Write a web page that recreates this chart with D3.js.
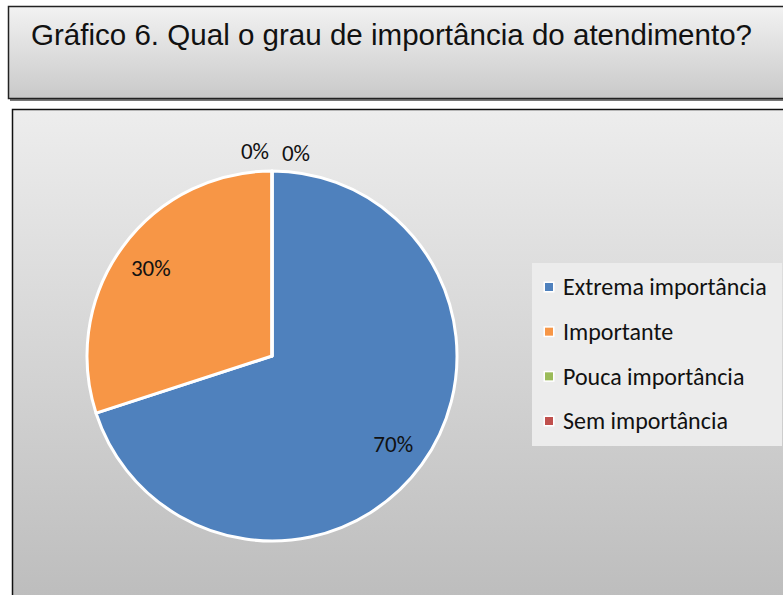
<!DOCTYPE html>
<html>
<head>
<meta charset="utf-8">
<script src="https://cdn.jsdelivr.net/npm/d3@7"></script>
<style>
  body { margin: 0; background: #fff; }
  svg { display: block; }
</style>
</head>
<body>
<svg id="chart" width="783" height="595"></svg>
<script>
let title = 'Gráfico 6. Qual o grau de importância do atendimento?'
let categories = ['Extrema importância', 'Importante', 'Pouca importância', 'Sem importância']
let values = [70, 30, 0, 0]
let colors = ['#4F81BD', '#F79646', '#9BBB59', '#C0504D']

let svg = d3.select('#chart')
let defs = svg.append('defs')

let g1 = defs.append('linearGradient').attr('id', 'titlegrad').attr('x1', 0).attr('y1', 0).attr('x2', 0).attr('y2', 1)
g1.append('stop').attr('offset', '0%').attr('stop-color', '#f2f2f2')
g1.append('stop').attr('offset', '100%').attr('stop-color', '#c9c9c9')

let g2 = defs.append('linearGradient').attr('id', 'plotgrad').attr('x1', 0).attr('y1', 0).attr('x2', 0).attr('y2', 1)
g2.append('stop').attr('offset', '0%').attr('stop-color', '#ededed')
g2.append('stop').attr('offset', '100%').attr('stop-color', '#bcbcbc')

// title box with shadow
svg.append('rect').attr('x', 10).attr('y', 8).attr('width', 790).attr('height', 93).attr('fill', '#777')
svg.append('rect').attr('x', 8.5).attr('y', 6.5).attr('width', 790).attr('height', 92)
  .attr('fill', 'url(#titlegrad)').attr('stroke', '#222').attr('stroke-width', 1.5)
svg.append('text').attr('x', 31).attr('y', 45)
  .style('font-family', 'Liberation Sans, Arial, sans-serif').style('font-size', '29px').attr('fill', '#111')
  .attr('textLength', 721).attr('lengthAdjust', 'spacingAndGlyphs')
  .text(title)

// chart area
svg.append('rect').attr('x', 12.5).attr('y', 109.5).attr('width', 790).attr('height', 500)
  .attr('fill', 'url(#plotgrad)').attr('stroke', '#111').attr('stroke-width', 1.5)

let cx = 272, cy = 356, r = 185
let pie = d3.pie().sort(null).value(d => d)
let arcs = pie(values)
let arc = d3.arc().innerRadius(0).outerRadius(r)

let pg = svg.append('g').attr('transform', `translate(${cx},${cy})`)
pg.selectAll('path')
  .data(arcs)
  .join('path')
  .attr('d', arc)
  .attr('fill', (d, i) => colors[i])
  .attr('stroke', '#fff')
  .attr('stroke-width', 3)
  .attr('stroke-linejoin', 'round')

// labels
let labelArc = d3.arc().innerRadius(r * 0.81).outerRadius(r * 0.81)
let lblFont = 'Carlito, Lato, Open Sans, sans-serif'
pg.selectAll('text.lbl')
  .data(arcs)
  .join('text')
  .attr('class', 'lbl')
  .attr('transform', (d, i) => {
    if (d.value > 0) return `translate(${labelArc.centroid(d)})`
    // zero slices sit at the top, spread apart
    let offs = [0, 0, [-17, -205], [24, -203]]
    return `translate(${offs[i]})`
  })
  .attr('text-anchor', 'middle')
  .attr('dy', '0.35em')
  .style('font-family', lblFont)
  .style('font-size', '23px')
  .attr('fill', '#111')
  .text(d => d.value + '%')

// legend
let lx = 532, ly = 263
svg.append('rect').attr('x', lx).attr('y', ly).attr('width', 250).attr('height', 183).attr('fill', '#ececec')
let leg = svg.append('g').attr('transform', `translate(${lx},${ly})`)
let ly0 = d3.scalePoint().domain(categories).range([24, 158])
let items = leg.selectAll('g').data(categories).join('g')
  .attr('transform', d => `translate(0,${ly0(d)})`)
items.append('rect').attr('x', 11.5).attr('y', -5.5).attr('width', 11).attr('height', 11).attr('fill', '#fff')
items.append('rect').attr('x', 13).attr('y', -4).attr('width', 8).attr('height', 8).attr('fill', (d, i) => colors[i])
items.append('text').attr('x', 31).attr('dy', '0.35em')
  .style('font-family', lblFont).style('font-size', '24px').attr('fill', '#111')
  .text(d => d)
</script>
</body>
</html>
